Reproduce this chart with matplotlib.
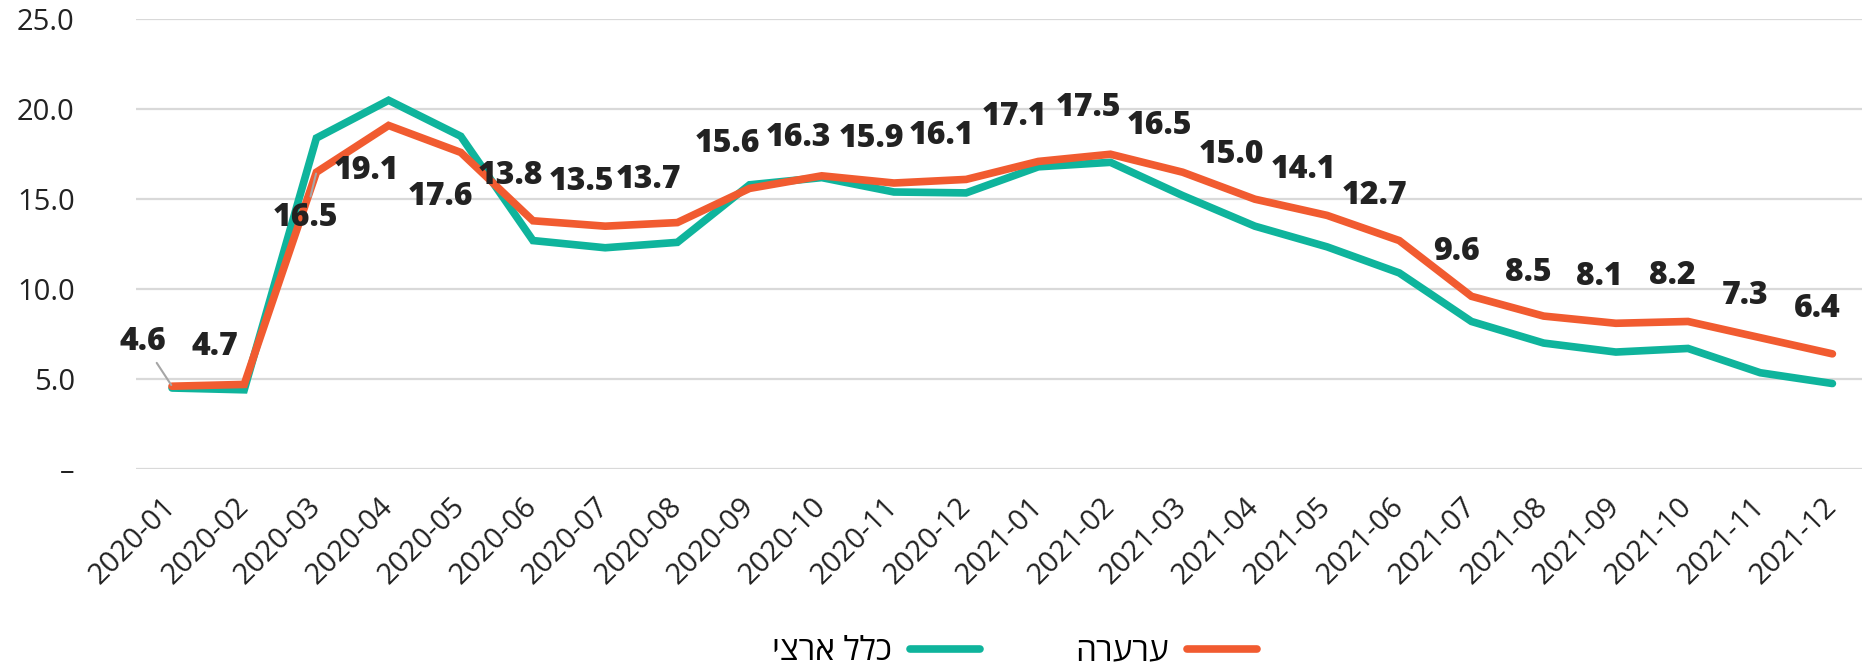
import matplotlib
matplotlib.use("Agg")
import matplotlib.pyplot as plt
from matplotlib.ticker import FixedLocator

plt.rcParams['font.family'] = ['Open Sans', 'DejaVu Sans']

# Data
months = ['2020-01', '2020-02', '2020-03', '2020-04', '2020-05', '2020-06',
          '2020-07', '2020-08', '2020-09', '2020-10', '2020-11', '2020-12',
          '2021-01', '2021-02', '2021-03', '2021-04', '2021-05', '2021-06',
          '2021-07', '2021-08', '2021-09', '2021-10', '2021-11', '2021-12']
arara = [4.6, 4.7, 16.5, 19.1, 17.6, 13.8, 13.5, 13.7, 15.6, 16.3, 15.9, 16.1,
         17.1, 17.5, 16.5, 15.0, 14.1, 12.7, 9.6, 8.5, 8.1, 8.2, 7.3, 6.4]
national = [4.5, 4.4, 18.4, 20.5, 18.5, 12.7, 12.3, 12.6, 15.8, 16.2, 15.4, 15.35,
            16.8, 17.05, 15.2, 13.5, 12.35, 10.9, 8.2, 7.0, 6.5, 6.7, 5.35, 4.75]
name_national = 'כלל ארצי'
name_arara = 'ערערה'
yticks = [0, 5, 10, 15, 20, 25]
ytick_labels = ['–', '5.0', '10.0', '15.0', '20.0', '25.0']

TEAL = '#0FB49C'
ORANGE = '#F15B30'

# label offsets in points (where each value label sits relative to its point)
label_offsets = [(-21, 32), (-21, 27), (-8, -33), (-16, -33), (-15, -32),
                 (-16, 32), (-17, 32), (-21, 31), (-16, 32), (-17, 27),
                 (-16, 32), (-18, 31), (-17, 32), (-16, 33), (-17, 33),
                 (-17, 32), (-17, 33), (-18, 32), (-11, 32), (-11, 31),
                 (-12, 33), (-11, 33), (-11, 30), (-11, 32)]
leaders = {0, 2}


def rtl(s):
    # matplotlib has no bidi support, so flip Hebrew for display
    return s[::-1]


fig = plt.figure(figsize=(18.62, 6.68), dpi=100)
ax = fig.add_axes([0.073, 0.298, 0.927, 0.673])

x = range(len(months))
ax.plot(x, national, color=TEAL, lw=5.5, solid_capstyle='round',
        solid_joinstyle='miter', label=rtl(name_national), zorder=3)
ax.plot(x, arara, color=ORANGE, lw=5.5, solid_capstyle='round',
        solid_joinstyle='miter', label=rtl(name_arara), zorder=4)

for i, v in enumerate(arara):
    dx, dy = label_offsets[i]
    kw = {}
    if i in leaders:
        kw['arrowprops'] = dict(arrowstyle='-', color='#A6A6A6', lw=1.5,
                                shrinkA=2, shrinkB=1)
    ax.annotate(f'{v:.1f}', (i, v), xytext=(dx, dy), textcoords='offset points',
                ha='center', va='center', fontsize=23, fontweight='heavy',
                color='#222222', zorder=5, **kw)

ax.set_xlim(-0.5, 23.41)
ax.set_ylim(0, 25)
ax.set_xticks(list(x))
ax.set_xticklabels(months, rotation=45, ha='right', va='center',
                   rotation_mode='anchor', fontsize=21, color='#222222')
ax.yaxis.set_major_locator(FixedLocator(yticks))
ax.set_yticklabels(ytick_labels, fontsize=21, color='#222222')
ax.tick_params(axis='both', length=0)
ax.tick_params(axis='y', pad=44)
ax.tick_params(axis='x', pad=24)
ax.grid(axis='y', color='#D9D9D9', lw=1.6)
ax.set_axisbelow(True)
for s in ax.spines.values():
    s.set_visible(False)

fig.legend(loc='center', bbox_to_anchor=(0.545, 0.024), ncol=2, frameon=False,
           markerfirst=False, fontsize=24, handlelength=2.1, handletextpad=0.55,
           columnspacing=2.85)

fig.savefig('out.png', dpi=100)
